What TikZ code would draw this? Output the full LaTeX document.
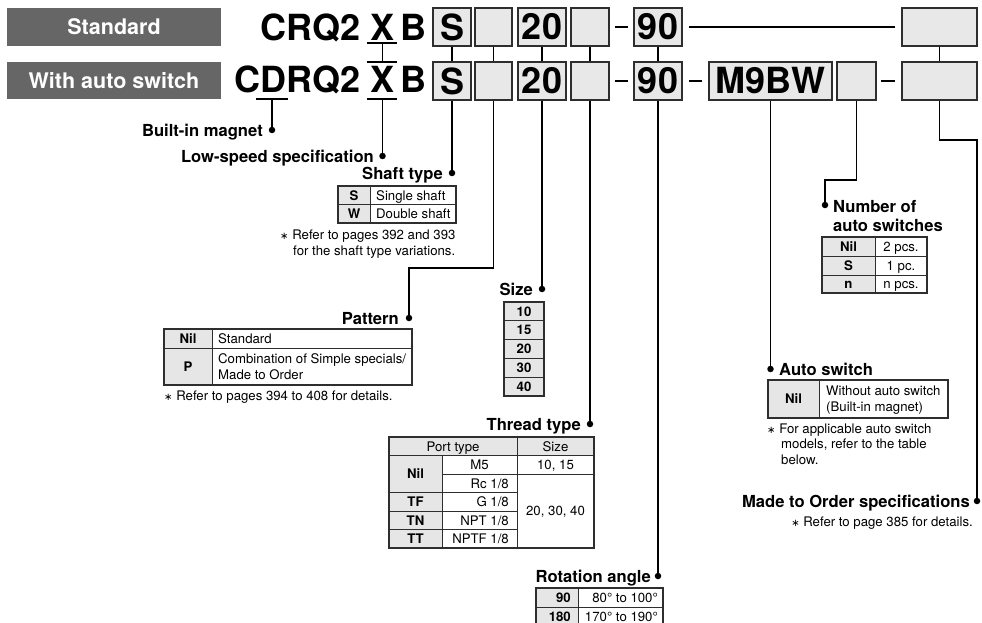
\documentclass[tikz,border=0pt]{standalone}
\usepackage{fontspec}
\setmainfont{TeX Gyre Heros}
\newfontfamily\mydejavu{DejaVu Sans}
\definecolor{taggrey}{HTML}{666666}
\definecolor{cellgrey}{HTML}{E6E6E6}
\definecolor{boxgrey}{HTML}{E8E8E8}
\definecolor{edge}{HTML}{2E2E2E}
\newcommand\myCode{\fontsize{36}{36}\selectfont\bfseries}
\newcommand\myTag{\fontsize{21.5}{22}\selectfont\bfseries}
\newcommand\myLbl{\fontsize{16.6}{18}\selectfont\bfseries}
\newcommand\myTx{\fontsize{13.2}{15}\selectfont}
\newcommand\myTxB{\fontsize{13.2}{15}\selectfont\bfseries}
\newcommand\myAst{{\mydejavu\fontsize{10}{10}\selectfont ∗}}
\tikzset{
  conn/.style={line width=1.8pt, black},
  dashbar/.style={line width=2.4pt, black, shorten <=5pt, shorten >=5pt},
  dot/.style={circle, fill=black, inner sep=0pt, minimum size=6.5pt},
  cbox/.style={draw=edge, line width=1.7pt, fill=boxgrey, inner sep=0pt, minimum height=38pt, font=\myCode},
  codetxt/.style={inner sep=0pt, font=\myCode},
  tag/.style={fill=taggrey, text=white, inner sep=0pt, font=\myTag},
  lbl/.style={inner sep=0pt, font=\myLbl},
  tx/.style={inner sep=0pt, font=\myTx, text height=9.5pt, text depth=0pt},
  tb/.style={inner sep=0pt, font=\myTxB, text height=9.5pt, text depth=0pt},
  note/.style={inner sep=0pt, font=\myTx, anchor=base west},
  tline/.style={draw=edge, line width=0.8pt},
  tout/.style={draw=edge, line width=1.1pt},
}
\begin{document}
\begin{tikzpicture}[x=1pt,y=-1pt]
\clip (0,0) rectangle (982,623);
\fill[white] (0,0) rectangle (982,623);

% ---- tags
\node[tag, minimum width=214pt, minimum height=38pt] (tagstd) at (114,27) {Standard};
\node[tag, minimum width=214pt, minimum height=37pt] (tagaut) at (114,80.5) {With auto switch};

% ---- code texts
\node[codetxt, anchor=base east] (c1a) at (361,41) {CRQ2};
\node[codetxt, anchor=base] (c1x) at (382.5,41) {X};
\node[codetxt, anchor=base] (c1b) at (413,41) {B};
\node[codetxt, anchor=base east] (c2a) at (361,93) {CDRQ2};
\node[codetxt, anchor=base] (c2x) at (382.5,93) {X};
\node[codetxt, anchor=base] (c2b) at (413,93) {B};

% ---- boxes row 1
\node[cbox, minimum width=38pt] (r1s) at (452,27) {S};
\node[cbox, minimum width=37pt] (r1p) at (493.5,27) {};
\node[cbox, minimum width=48pt] (r1a) at (542,27) {20};
\node[cbox, minimum width=38pt] (r1e) at (590,27) {};
\node[cbox, minimum width=48pt] (r1n) at (658,27) {90};
\node[cbox, minimum width=75pt] (r1l) at (939.5,27) {};
% ---- boxes row 2
\node[cbox, minimum width=38pt] (r2s) at (452,81) {S};
\node[cbox, minimum width=37pt] (r2p) at (493.5,81) {};
\node[cbox, minimum width=48pt] (r2a) at (542,81) {20};
\node[cbox, minimum width=38pt] (r2e) at (590,81) {};
\node[cbox, minimum width=48pt] (r2n) at (658,81) {90};
\node[cbox, minimum width=123pt] (r2m) at (770.5,81) {M9BW};
\node[cbox, minimum width=39pt] (r2c) at (856.5,81) {};
\node[cbox, minimum width=75pt] (r2l) at (939.5,81) {};

% ---- dashes
\draw[dashbar] (r1e.east) -- (r1n.west);
\draw[dashbar, shorten <=6pt, shorten >=6pt] (r1n.east) -- (r1l.west);
\draw[dashbar] (r2e.east) -- (r2n.west);
\draw[dashbar, shorten <=6pt, shorten >=6pt] (r2n.east) -- (r2m.west);
\draw[dashbar, shorten <=4pt, shorten >=6pt] (r2c.east) -- (r2l.west);

% ---- row to row connectors
\draw[conn] (r1s.south) -- (r2s.north);
\draw[conn] (r1p.south) -- (r2p.north);
\draw[conn] (r1a.south) -- (r2a.north);
\draw[conn] (r1e.south) -- (r2e.north);
\draw[conn] (r1n.south) -- (r2n.north);
\draw[conn] (r1l.south) -- (r2l.north);

% ---- under/over lines of the code letters
\coordinate (dUl) at (256,99); \coordinate (dUr) at (288,99); \coordinate (dU) at (272,99);
\coordinate (x1l) at (367,43); \coordinate (x1r) at (397,43); \coordinate (x1m) at (382.5,43);
\coordinate (x2l) at (367,62); \coordinate (x2r) at (397,62); \coordinate (x2m) at (382.5,62);
\coordinate (x3l) at (367,99); \coordinate (x3r) at (397,99); \coordinate (x3m) at (382.5,99);
\draw[conn] (dUl) -- (dUr);
\draw[conn] (x1l) -- (x1r);
\draw[conn] (x2l) -- (x2r);
\draw[conn] (x3l) -- (x3r);
\draw[conn] (x1m) -- (x2m);

% ---- dots
\node[dot] (dmag) at (272,130) {};
\node[dot] (dlow) at (382.5,156) {};
\node[dot] (dshaft) at (452,173) {};
\node[dot] (dpat) at (409,318) {};
\node[dot] (dsize) at (542,289) {};
\node[dot] (dthr) at (590,424) {};
\node[dot] (drot) at (658,576) {};
\node[dot] (dnum) at (825,205) {};
\node[dot] (dauto) at (770.5,369) {};
\node[dot] (dmto) at (977,501) {};

% ---- connectors down
\draw[conn] (dU) -- (dmag);
\draw[conn] (x3m) -- (dlow);
\draw[conn] (r2s.south) -- (dshaft);
\coordinate (pj) at (409,268);
\draw[conn] (r2p.south) |- (pj) -- (dpat);
\draw[conn] (r2a.south) -- (dsize);
\draw[conn] (r2e.south) -- (dthr);
\draw[conn] (r2n.south) -- (drot);
\draw[conn] (r2m.south) -- (dauto);
\coordinate (nj) at (825,180);
\draw[conn] (r2c.south) |- (nj) -- (dnum);
\coordinate (mj) at (977,140);
\draw[conn] (r2l.south) |- (mj) -- (dmto);

% ---- labels
\node[lbl, anchor=base east] (Lmag) at (263,136) {Built-in magnet};
\node[lbl, anchor=base east] (Llow) at (374,162) {Low-speed specification};
\node[lbl, anchor=base east] (Lshaft) at (443,179) {Shaft type};
\node[lbl, anchor=base east] (Lpat) at (399,324) {Pattern};
\node[lbl, anchor=base east] (Lsize) at (533,295) {Size};
\node[lbl, anchor=base east] (Lthr) at (581,430) {Thread type};
\node[lbl, anchor=base east] (Lrot) at (651,582) {Rotation angle};
\node[lbl, anchor=base west] (Lnum1) at (833,212) {Number of};
\node[lbl, anchor=base west] (Lnum2) at (833,231) {auto switches};
\node[lbl, anchor=base west] (Lauto) at (779,375) {Auto switch};
\node[lbl, anchor=base east] (Lmto) at (970,507) {Made to Order specifications};

% ---- shaft table
\fill[cellgrey] (338,186) rectangle (370,223);
\draw[tline] (338,204.5) -- (456,204.5) (370,186) -- (370,223);
\draw[tout] (338,186) rectangle (456,223);
\node[tb] (shS) at (354,195.3) {S};
\node[tb] (shW) at (354,213.8) {W};
\node[tx, anchor=west] (shS2) at (376,195.3) {Single shaft};
\node[tx, anchor=west] (shW2) at (376,213.8) {Double shaft};
\node[note] (shn1) at (280,239) {\myAst\ Refer to pages 392 and 393};
\node[note] (shn2) at (293,255.5) {for the shaft type variations.};

% ---- pattern table
\fill[cellgrey] (164,329) rectangle (212,385);
\draw[tline] (164,348) -- (412,348) (212,329) -- (212,385);
\draw[tout] (164,329) rectangle (412,385);
\node[tb] (paN) at (188,338.5) {Nil};
\node[tb] (paP) at (188,366.5) {P};
\node[tx, anchor=west] (paN2) at (218,338.5) {Standard};
\node[tx, anchor=base west] (paP2) at (218,363) {Combination of Simple specials/};
\node[tx, anchor=base west] (paP3) at (218,379) {Made to Order};
\node[note] (pan) at (164,400.5) {\myAst\ Refer to pages 394 to 408 for details.};

% ---- size table
\fill[cellgrey] (504,302) rectangle (544,396);
\draw[tline] (504,320.8) -- (544,320.8) (504,339.6) -- (544,339.6) (504,358.4) -- (544,358.4) (504,377.2) -- (544,377.2);
\draw[tout] (504,302) rectangle (544,396);
\node[tb] (sz1) at (524,311.4) {10};
\node[tb] (sz2) at (524,330.2) {15};
\node[tb] (sz3) at (524,349) {20};
\node[tb] (sz4) at (524,367.8) {30};
\node[tb] (sz5) at (524,386.6) {40};

% ---- thread table
\fill[cellgrey] (389,437) rectangle (594,455.5);
\fill[cellgrey] (389,455.5) rectangle (442,548);
\draw[tline] (389,455.5) -- (594,455.5)
  (442,474) -- (594,474)
  (389,492.5) -- (517,492.5)
  (389,511) -- (517,511)
  (389,529.5) -- (517,529.5)
  (442,455.5) -- (442,548)
  (517,437) -- (517,548);
\draw[tout] (389,437) rectangle (594,548);
\node[tx] (thH1) at (453,446.3) {Port type};
\node[tx] (thH2) at (555.5,446.3) {Size};
\node[tb] (thNil) at (415.5,474) {Nil};
\node[tb] (thTF) at (415.5,501.8) {TF};
\node[tb] (thTN) at (415.5,520.3) {TN};
\node[tb] (thTT) at (415.5,538.8) {TT};
\node[tx] (thM5) at (479.5,464.8) {M5};
\node[tx, anchor=east] (thRc) at (509,483.3) {Rc 1/8};
\node[tx, anchor=east] (thG) at (509,501.8) {G 1/8};
\node[tx, anchor=east] (thNPT) at (509,520.3) {NPT 1/8};
\node[tx, anchor=east] (thNPTF) at (509,538.8) {NPTF 1/8};
\node[tx] (thS1) at (555.5,464.8) {10, 15};
\node[tx] (thS2) at (555.5,511) {20, 30, 40};

% ---- rotation table
\fill[cellgrey] (536,588) rectangle (578,627);
\draw[tline] (536,607) -- (663,607) (578,588) -- (578,627);
\draw[tout] (536,588) rectangle (663,627);
\node[tb, anchor=east] (ro1) at (571,597.5) {90};
\node[tb, anchor=east] (ro2) at (571,616.5) {180};
\node[tx, anchor=east] (ro1b) at (658,597.5) {80° to 100°};
\node[tx, anchor=east] (ro2b) at (658,616.5) {170° to 190°};

% ---- number of auto switches table
\fill[cellgrey] (822,237) rectangle (875,293);
\draw[tline] (822,256) -- (927,256) (822,275) -- (927,275) (875,237) -- (875,293);
\draw[tout] (822,237) rectangle (927,293);
\node[tb] (nu1) at (848.5,246.5) {Nil};
\node[tb] (nu2) at (848.5,265.5) {S};
\node[tb] (nu3) at (848.5,284) {n};
\node[tx] (nu1b) at (901,246.5) {2 pcs.};
\node[tx] (nu2b) at (901,265.5) {1 pc.};
\node[tx] (nu3b) at (901,284) {n pcs.};

% ---- auto switch table
\fill[cellgrey] (768,380) rectangle (819,418);
\draw[tline] (819,380) -- (819,418);
\draw[tout] (768,380) rectangle (948,418);
\node[tb] (au1) at (793.5,399) {Nil};
\node[tx, anchor=base west] (au2) at (826,395) {Without auto switch};
\node[tx, anchor=base west] (au3) at (826,411) {(Built-in magnet)};
\node[note] (aun1) at (767,433) {\myAst\ For applicable auto switch};
\node[note] (aun2) at (781,448.5) {models, refer to the table};
\node[note] (aun3) at (781,464) {below.};

% ---- made to order note
\node[note, anchor=base east] (mton) at (973,526) {\myAst\ Refer to page 385 for details.};
\end{tikzpicture}
\end{document}
